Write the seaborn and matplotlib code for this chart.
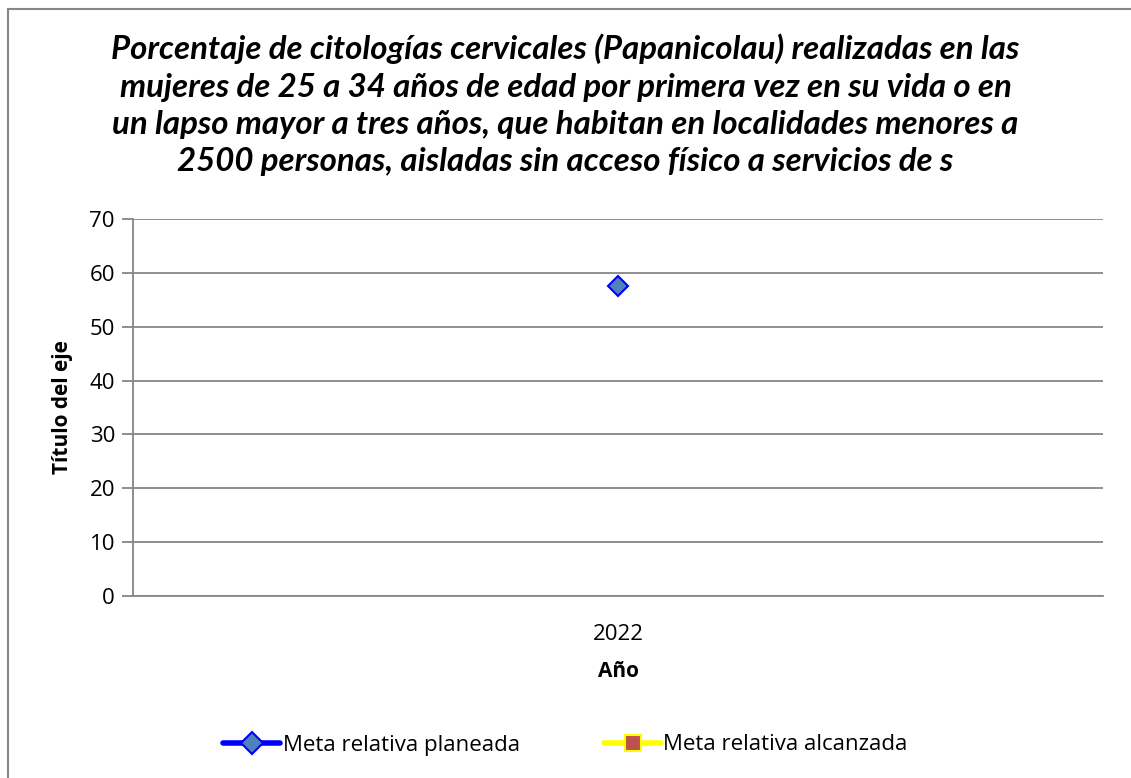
import matplotlib
matplotlib.use("Agg")
import matplotlib.pyplot as plt
from matplotlib.lines import Line2D
from matplotlib.patches import Rectangle
import seaborn as sns
import pandas as pd
import numpy as np

years = ["2022"]
planned = [57.6]
achieved = [np.nan]

title = ("Porcentaje de citologías cervicales (Papanicolau) realizadas en las\n"
         "mujeres de 25 a 34 años de edad por primera vez en su vida o en\n"
         "un lapso mayor a tres años, que habitan en localidades menores a\n"
         "2500 personas, aisladas sin acceso físico a servicios de s")

sns.set_theme(style="white")
plt.rcParams['font.family'] = ['Open Sans', 'DejaVu Sans']
plt.rcParams['text.color'] = 'black'
plt.rcParams['axes.labelcolor'] = 'black'
plt.rcParams['xtick.color'] = 'black'
plt.rcParams['ytick.color'] = 'black'

df = pd.DataFrame({"pos": np.arange(len(years)), "year": years,
                   "planned": planned, "achieved": achieved})

fig = plt.figure(figsize=(11.31, 7.78), dpi=100)
ax = fig.add_axes([133/1131, 1-596/778, (1103-133)/1131, (596-219)/778])

sns.lineplot(data=df, x="pos", y="planned", ax=ax, color="blue", marker="D",
             markersize=10, markerfacecolor="#4F81BD", markeredgecolor="blue",
             markeredgewidth=1.5, linewidth=3)
sns.lineplot(data=df, x="pos", y="achieved", ax=ax, color="yellow", marker="s",
             markersize=10, markerfacecolor="#C0504D", markeredgecolor="yellow",
             linewidth=3)

ax.set_xlim(-0.5, len(years) - 0.5)
ax.set_ylim(0, 70)
ax.set_yticks(range(0, 71, 10))
ax.set_xticks(df["pos"])
ax.set_xticklabels(years)
ax.yaxis.grid(True, color="#868686", linewidth=1.3)
ax.xaxis.grid(False)
for s in ["top", "right"]:
    ax.spines[s].set_visible(False)
for s in ["left", "bottom"]:
    ax.spines[s].set_color("#868686")
    ax.spines[s].set_linewidth(1.3)
ax.tick_params(axis="y", length=8, width=1.3, color="#868686", labelsize=16,
               labelcolor="black", pad=5, left=True)
ax.tick_params(axis="x", length=0, labelsize=16, labelcolor="black", pad=20)
ax.set_xlabel("Año", fontsize=15, fontweight="bold", labelpad=12, color="black")
ax.set_ylabel("Título del eje", fontsize=15, fontweight="bold", labelpad=12, color="black")

fig.text(0.5, 1-105/778, title, ha="center", va="center", fontsize=23.8,
         fontweight="bold", fontstyle="italic", linespacing=1.35,
         family=["Lato", "DejaVu Sans"], color="black")

handles = [
    Line2D([], [], color="blue", linewidth=4, marker="D", markersize=11,
           markerfacecolor="#4F81BD", markeredgecolor="blue", markeredgewidth=1.5),
    Line2D([], [], color="yellow", linewidth=4, marker="s", markersize=11,
           markerfacecolor="#C0504D", markeredgecolor="yellow", markeredgewidth=1.5),
]
fig.legend(handles, ["Meta relativa planeada", "Meta relativa alcanzada"],
           loc="center", bbox_to_anchor=(0.5, 1-745/778), ncol=2, frameon=False,
           fontsize=16, handlelength=2.56, handletextpad=0.1, columnspacing=3.8,
           labelcolor="black")

fig.patches.append(Rectangle((8/1131, -0.1), 1.2, 1.1 - 9/778, transform=fig.transFigure,
                             fill=False, edgecolor="#868686", linewidth=1.5))

fig.savefig("out.png", dpi=100)
